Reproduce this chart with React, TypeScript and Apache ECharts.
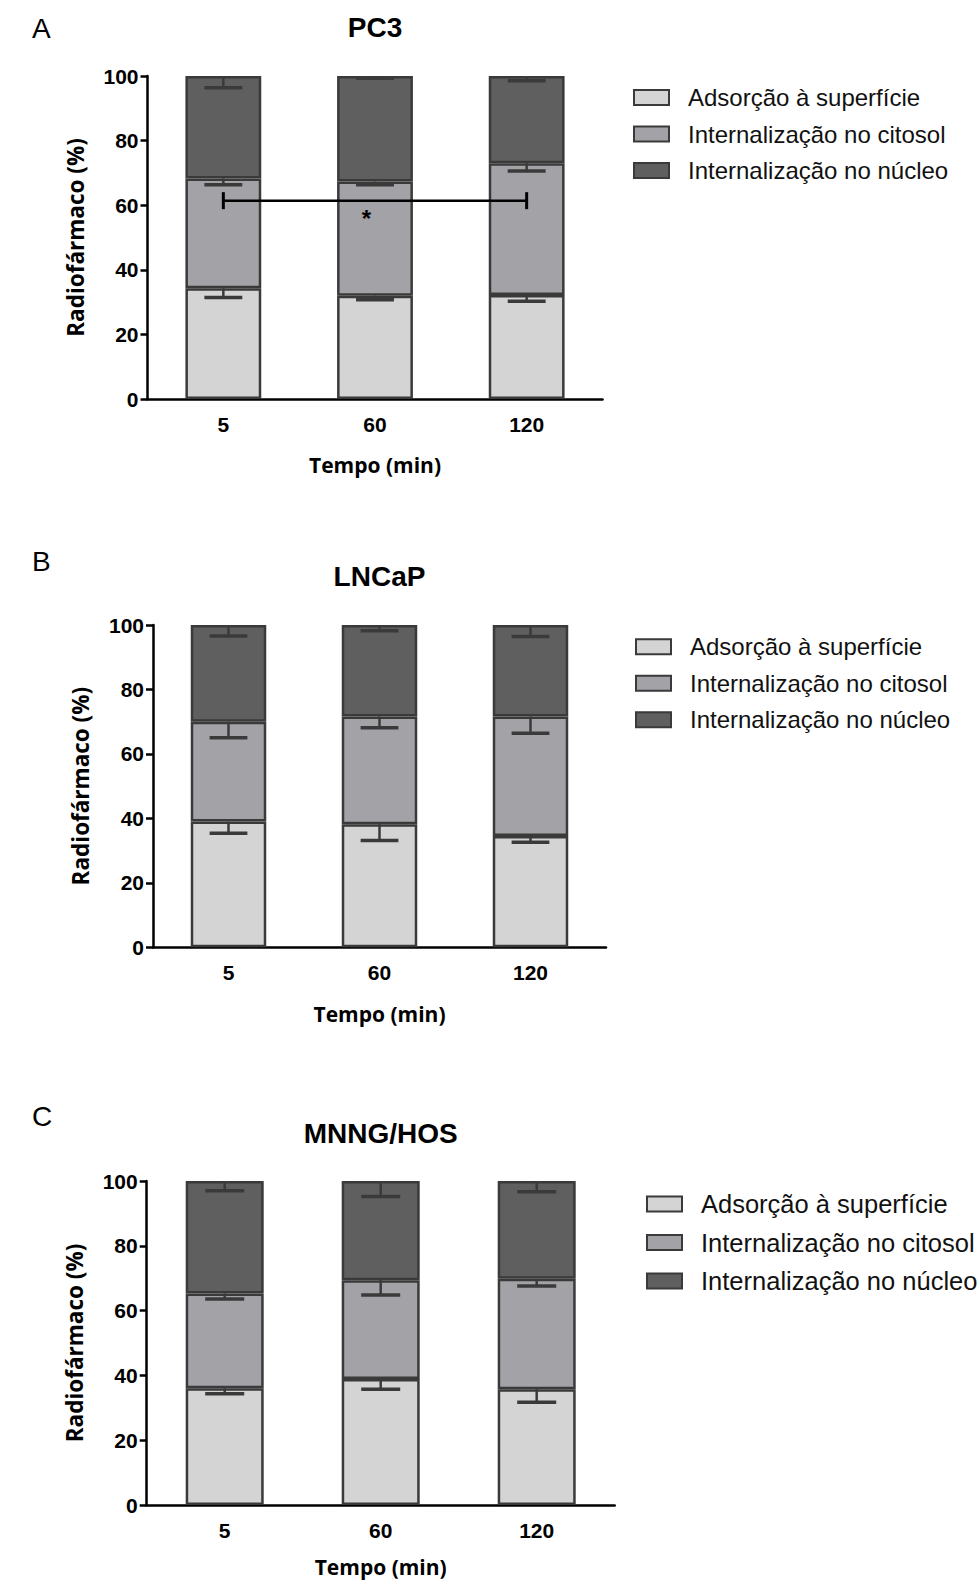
import React, { useEffect, useRef } from "react";
import * as echarts from "echarts";

// ---------- data ----------
const categories = ["5", "60", "120"];
const seriesNames = [
  "Adsorção à superfície",
  "Internalização no citosol",
  "Internalização no núcleo",
];
const seriesColors = ["#d4d4d4", "#a3a2a7", "#5f5f5f"];

// PC3 (segment percentages, and downward SD of each segment's top)
const pc3Surface = [34.3, 32.0, 32.2];
const pc3Cytosol = [34.0, 35.3, 40.8];
const pc3Nucleus = [31.7, 32.7, 27.0];
const pc3SurfaceErr = [2.9, 1.3, 1.9];
const pc3CytosolErr = [2.0, 1.0, 2.4];
const pc3NucleusErr = [3.6, 0.7, 1.5];

// LNCaP
const lncapSurface = [39.0, 38.2, 34.5];
const lncapCytosol = [31.0, 33.4, 37.1];
const lncapNucleus = [30.0, 28.4, 28.4];
const lncapSurfaceErr = [3.6, 5.1, 1.9];
const lncapCytosolErr = [5.0, 3.5, 5.2];
const lncapNucleusErr = [3.4, 1.8, 3.6];

// MNNG/HOS
const hosSurface = [36.0, 38.9, 35.7];
const hosCytosol = [29.3, 30.5, 34.1];
const hosNucleus = [34.7, 30.6, 30.2];
const hosSurfaceErr = [1.7, 3.2, 4.0];
const hosCytosolErr = [1.7, 4.6, 2.2];
const hosNucleusErr = [3.0, 4.8, 3.3];

// PC3 significance bracket (5 min vs 120 min)
const sigFrom = 0;
const sigTo = 2;
const sigLevel = 61.4;
const sigLabel = "*";

const yTicks = { min: 0, max: 100, interval: 20 };

const panels = [
  {
    letter: "A",
    title: "PC3",
    seg: [pc3Surface, pc3Cytosol, pc3Nucleus],
    err: [pc3SurfaceErr, pc3CytosolErr, pc3NucleusErr],
    grid: { left: 147.5, top: 76, width: 455, height: 323 },
    legendTop: 85.5,
    legendLeft: 633,
    legendFont: 24,
    letterPos: [32, 28],
    titleY: 27,
    nameGapX: 55,
  },
  {
    letter: "B",
    title: "LNCaP",
    seg: [lncapSurface, lncapCytosol, lncapNucleus],
    err: [lncapSurfaceErr, lncapCytosolErr, lncapNucleusErr],
    grid: { left: 153, top: 625, width: 453, height: 322.3 },
    legendTop: 634.7,
    legendLeft: 635,
    legendFont: 24,
    letterPos: [32, 561],
    titleY: 576.7,
    nameGapX: 56,
  },
  {
    letter: "C",
    title: "MNNG/HOS",
    seg: [hosSurface, hosCytosol, hosNucleus],
    err: [hosSurfaceErr, hosCytosolErr, hosNucleusErr],
    grid: { left: 146.7, top: 1181, width: 468, height: 324 },
    legendTop: 1191,
    legendLeft: 646,
    legendFont: 25.5,
    letterPos: [32, 1116],
    titleY: 1133,
    nameGapX: 51,
  },
];

const INK = "#3a3a3a";
const ARIAL = '"Liberation Sans", Arial, sans-serif';
const GILL = '"Open Sans", Lato, sans-serif';

export default function App() {
  const ref = useRef<HTMLDivElement>(null);

  useEffect(() => {
    if (!ref.current) return;
    const chart = echarts.init(ref.current, undefined, { renderer: "svg" });

    const grids: any[] = [];
    const xAxes: any[] = [];
    const yAxes: any[] = [];
    const series: any[] = [];
    const legends: any[] = [];
    const graphics: any[] = [];

    panels.forEach((p, i) => {
      grids.push({ ...p.grid, containLabel: false });
      xAxes.push({
        type: "category",
        gridIndex: i,
        data: categories,
        boundaryGap: true,
        name: "Tempo (min)",
        nameLocation: "middle",
        nameGap: p.nameGapX,
        nameTextStyle: { fontFamily: GILL, fontWeight: "bold", fontSize: 21, color: "#000" },
        axisLine: { lineStyle: { color: "#000", width: 2.5 } },
        axisTick: { alignWithLabel: true, length: 8, lineStyle: { color: "#000", width: 2.5 } },
        axisLabel: { margin: 15, fontFamily: ARIAL, fontWeight: "bold", fontSize: 21, color: "#000" },
        splitLine: { show: false },
      });
      yAxes.push({
        type: "value",
        gridIndex: i,
        min: yTicks.min,
        max: yTicks.max,
        interval: yTicks.interval,
        name: "Radiofármaco (%)",
        nameLocation: "middle",
        nameRotate: 90,
        nameGap: 61,
        nameTextStyle: { fontFamily: GILL, fontWeight: "bold", fontSize: 22.5, color: "#000" },
        axisLine: { show: true, lineStyle: { color: "#000", width: 2.5 } },
        axisTick: { show: true, length: 7, lineStyle: { color: "#000", width: 2.5 } },
        axisLabel: { margin: 9, fontFamily: ARIAL, fontWeight: "bold", fontSize: 21, color: "#000" },
        splitLine: { show: false },
      });

      // stacked bars
      p.seg.forEach((vals, k) => {
        series.push({
          type: "bar",
          name: seriesNames[k],
          xAxisIndex: i,
          yAxisIndex: i,
          stack: "total" + i,
          barWidth: "50%",
          data: vals,
          itemStyle: { color: seriesColors[k], borderColor: INK, borderWidth: 2.5 },
          emphasis: { disabled: true },
          z: 2,
        });
      });

      // error bars (drawn downward from each segment top)
      const errData: number[][] = [];
      categories.forEach((_, c) => {
        let cum = 0;
        p.seg.forEach((vals, k) => {
          cum += vals[c];
          errData.push([c, cum, cum - p.err[k][c]]);
        });
      });
      series.push({
        type: "custom",
        xAxisIndex: i,
        yAxisIndex: i,
        data: errData,
        encode: { x: 0, y: [1, 2] },
        z: 5,
        silent: true,
        renderItem: (params: any, api: any) => {
          const x = api.value(0);
          const top = api.coord([x, api.value(1)]);
          const low = api.coord([x, api.value(2)]);
          const half = api.size([1, 0])[0] * 0.125;
          return {
            type: "group",
            children: [
              {
                type: "line",
                shape: { x1: top[0], y1: top[1], x2: low[0], y2: low[1] },
                style: { stroke: INK, lineWidth: 2.5 },
              },
              {
                type: "line",
                shape: { x1: low[0] - half, y1: low[1], x2: low[0] + half, y2: low[1] },
                style: { stroke: INK, lineWidth: 3.5 },
              },
            ],
          };
        },
      });

      legends.push({
        orient: "vertical",
        left: p.legendLeft,
        top: p.legendTop,
        padding: 0,
        icon: "rect",
        itemWidth: 35,
        itemHeight: 15,
        itemGap: 12.5,
        selectedMode: false,
        data: seriesNames,
        itemStyle: { borderColor: INK, borderWidth: 2 },
        textStyle: {
          fontFamily: ARIAL,
          fontSize: p.legendFont,
          lineHeight: 24,
          color: "#111",
          padding: [0, 0, 0, 14],
        },
      });

      graphics.push({
        type: "text",
        x: p.letterPos[0],
        y: p.letterPos[1],
        style: {
          text: p.letter,
          fontFamily: ARIAL,
          fontSize: 28,
          fill: "#000",
          align: "left",
          verticalAlign: "middle",
        },
      });
      graphics.push({
        type: "text",
        x: p.grid.left + p.grid.width / 2,
        y: p.titleY,
        style: {
          text: p.title,
          fontFamily: ARIAL,
          fontWeight: "bold",
          fontSize: 28,
          fill: "#000",
          align: "center",
          verticalAlign: "middle",
        },
      });
    });

    // significance bracket in PC3 panel
    series.push({
      type: "custom",
      xAxisIndex: 0,
      yAxisIndex: 0,
      data: [[sigFrom, sigTo, sigLevel]],
      encode: { x: [0, 1], y: 2 },
      z: 6,
      silent: true,
      renderItem: (params: any, api: any) => {
        const a = api.coord([api.value(0), api.value(2)]);
        const b = api.coord([api.value(1), api.value(2)]);
        const h = 8.5;
        return {
          type: "group",
          children: [
            { type: "line", shape: { x1: a[0], y1: a[1], x2: b[0], y2: b[1] }, style: { stroke: "#000", lineWidth: 2.5 } },
            { type: "line", shape: { x1: a[0], y1: a[1] - h, x2: a[0], y2: a[1] + h }, style: { stroke: "#000", lineWidth: 3 } },
            { type: "line", shape: { x1: b[0], y1: b[1] - h, x2: b[0], y2: b[1] + h }, style: { stroke: "#000", lineWidth: 3 } },
            {
              type: "text",
              x: (a[0] + b[0]) / 2 - 8.5,
              y: a[1] + 18,
              style: {
                text: sigLabel,
                fontFamily: ARIAL,
                fontWeight: "bold",
                fontSize: 24,
                fill: "#000",
                align: "center",
                verticalAlign: "middle",
              },
            },
          ],
        };
      },
    });

    chart.setOption({
      animation: false,
      backgroundColor: "#ffffff",
      grid: grids,
      xAxis: xAxes,
      yAxis: yAxes,
      legend: legends,
      series,
      graphic: graphics,
    });

    return () => chart.dispose();
  }, []);

  return (
    <div
      ref={ref}
      style={{ position: "absolute", left: 0, top: 0, width: 979, height: 1582, background: "#fff" }}
    />
  );
}
